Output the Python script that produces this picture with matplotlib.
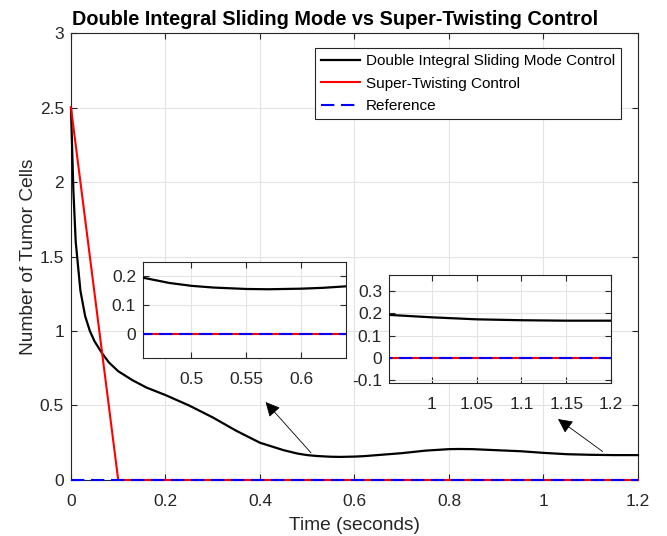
import numpy as np
import matplotlib.pyplot as plt

plt.rcParams['font.family'] = ['Liberation Sans', 'DejaVu Sans']

# tumor cells vs time
t_dism = [0, 0.005, 0.01, 0.02, 0.03, 0.04, 0.05, 0.066, 0.08, 0.1, 0.13, 0.16,
          0.2, 0.25, 0.3, 0.35, 0.4, 0.45, 0.48, 0.5, 0.52, 0.55, 0.57, 0.6,
          0.62, 0.64, 0.7, 0.75, 0.8, 0.82, 0.85, 0.9, 0.952, 1.0, 1.05, 1.1,
          1.15, 1.2]
y_dism = [2.5, 1.95, 1.6, 1.27, 1.1, 1.0, 0.93, 0.85, 0.79, 0.73, 0.67, 0.62,
          0.57, 0.5, 0.42, 0.33, 0.25, 0.2, 0.177, 0.167, 0.161, 0.156, 0.155, 0.157,
          0.16, 0.165, 0.18, 0.197, 0.207, 0.208, 0.207, 0.2, 0.193, 0.182, 0.173, 0.169,
          0.167, 0.167]
t_stc = [0, 0.1, 1.2]
y_stc = [2.5, 0, 0]
t_ref = [0, 1.2]
y_ref = [0, 0]

edge = '#262626'
gridc = '#e3e3e3'

fig = plt.figure(figsize=(6.67, 5.36), dpi=100)
ax = fig.add_axes([0.1064, 0.1045, 0.8501, 0.8339])


def draw(a, clip=True):
    a.plot(t_dism, y_dism, color='black', lw=1.6, zorder=3, clip_on=clip,
           label='Double Integral Sliding Mode Control')
    a.plot(t_stc, y_stc, color='red', lw=1.5, zorder=3, clip_on=clip,
           label='Super-Twisting Control')
    a.plot(t_ref, y_ref, color='blue', lw=1.5, dashes=(6.4, 3.2), zorder=3.1,
           clip_on=clip, label='Reference')
    a.grid(True, color=gridc, lw=0.8)
    a.set_axisbelow(True)
    for s in a.spines.values():
        s.set_color(edge)
        s.set_linewidth(0.8)
    a.tick_params(direction='in', top=True, right=True, colors=edge,
                  labelcolor='#262626', length=4, width=0.8, labelsize=12.5)
    a.tick_params(axis='x', pad=10)
    a.tick_params(axis='y', pad=5)


draw(ax, clip=False)
ax.set_xlim(0, 1.2)
ax.set_ylim(0, 3)
ax.set_xticks([0, 0.2, 0.4, 0.6, 0.8, 1, 1.2])
ax.set_xticklabels(['0', '0.2', '0.4', '0.6', '0.8', '1', '1.2'])
ax.set_yticks([0, 0.5, 1, 1.5, 2, 2.5, 3])
ax.set_yticklabels(['0', '0.5', '1', '1.5', '2', '2.5', '3'])
ax.set_xlabel('Time (seconds)', fontsize=13.8, color='#262626', labelpad=6)
ax.set_ylabel('Number of Tumor Cells', fontsize=13.8, color='#262626', labelpad=2)
ax.set_title('Double Integral Sliding Mode vs Super-Twisting Control',
             fontsize=14.3, fontweight='bold', pad=6, x=0.466)
leg = ax.legend(loc='upper right', bbox_to_anchor=(0.970, 0.966), borderaxespad=0,
                fontsize=11, fancybox=False, edgecolor=edge, framealpha=1,
                handlelength=2.6, handletextpad=0.35, labelspacing=0.55,
                borderpad=0.4)
leg.get_frame().set_linewidth(0.8)

# arrows to the insets
ax.annotate('', xy=(0.408, 0.537), xytext=(0.512, 0.168),
            arrowprops=dict(arrowstyle='-|>', color='black', lw=0.6, mutation_scale=22))
ax.annotate('', xy=(1.026, 0.42), xytext=(1.13, 0.18),
            arrowprops=dict(arrowstyle='-|>', color='black', lw=0.6, mutation_scale=22))

# inset 1
ax1 = fig.add_axes([0.2144, 0.3321, 0.3043, 0.179])
draw(ax1)
ax1.set_xlim(0.456, 0.641)
ax1.set_ylim(-0.085, 0.25)
ax1.set_xticks([0.5, 0.55, 0.6])
ax1.set_xticklabels(['0.5', '0.55', '0.6'])
ax1.set_yticks([0, 0.1, 0.2])
ax1.set_yticklabels(['0', '0.1', '0.2'])

# inset 2
ax2 = fig.add_axes([0.5832, 0.2854, 0.3328, 0.2015])
draw(ax2)
ax2.set_xlim(0.952, 1.2)
ax2.set_ylim(-0.113, 0.372)
ax2.set_xticks([1, 1.05, 1.1, 1.15, 1.2])
ax2.set_xticklabels(['1', '1.05', '1.1', '1.15', '1.2'])
ax2.set_yticks([-0.1, 0, 0.1, 0.2, 0.3])
ax2.set_yticklabels(['-0.1', '0', '0.1', '0.2', '0.3'])

fig.savefig('out.png', dpi=100)
